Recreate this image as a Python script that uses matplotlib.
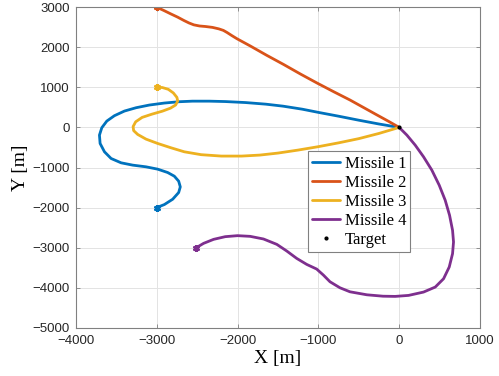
import matplotlib.pyplot as plt
import numpy as np

# Trajectories (metres), start -> target
m1_x = [-3000, -2905, -2802, -2728, -2708, -2728, -2782, -2864, -2988, -3132, -3296, -3440, -3564,
        -3646, -3700, -3708, -3679, -3617, -3523, -3399, -3255, -3091, -2905, -2720, -2556, -2350,
        -2150, -1900, -1650, -1436, -1200, -1000, -750, -500, -250, 0]
m1_y = [-2000, -1924, -1791, -1624, -1483, -1341, -1216, -1125, -1041, -983, -941, -883, -775,
        -608, -400, -192, -8, 158, 292, 408, 491, 558, 608, 641, 655, 655,
        645, 620, 580, 530, 455, 375, 280, 180, 85, 0]

m2_x = [-3000, -2910, -2827, -2740, -2663, -2600, -2540, -2470, -2396, -2310, -2231, -2175, -2129,
        -2070, -2005, -1841, -1640, -1430, -1220, -1019, -810, -608, -440, -279, -130, 0]
m2_y = [3000, 2915, 2833, 2750, 2667, 2605, 2558, 2530, 2517, 2495, 2458, 2420, 2367,
        2290, 2210, 2030, 1800, 1570, 1330, 1110, 890, 683, 495, 315, 150, 0]

m3_x = [-3000, -2930, -2856, -2794, -2750, -2740, -2765, -2830, -2930, -3060, -3180, -3260, -3292,
        -3285, -3235, -3132, -2988, -2823, -2659, -2450, -2200, -1950, -1724, -1500, -1250, -1000,
        -750, -500, -250, -100, 0]
m3_y = [1000, 995, 950, 860, 750, 660, 560, 480, 405, 330, 250, 140, 20,
        -80, -175, -292, -400, -508, -608, -680, -715, -715, -690, -640, -565, -480,
        -385, -280, -150, -60, 0]

m4_x = [-2510, -2420, -2296, -2152, -2000, -1844, -1679, -1514, -1391, -1268, -1144, -1021, -938,
        -856, -733, -609, -400, -200, -50, 116, 301, 446, 549, 619, 660, 672, 660, 623, 569, 495,
        404, 301, 198, 95, 0]
m4_y = [-3000, -2892, -2792, -2725, -2700, -2717, -2783, -2917, -3083, -3267, -3417, -3533, -3683,
        -3850, -4000, -4100, -4175, -4210, -4215, -4190, -4107, -3982, -3774, -3482, -3149, -2857,
        -2566, -2191, -1816, -1441, -1066, -733, -442, -192, 0]

target = (0, 0)

labels = ['Missile 1', 'Missile 2', 'Missile 3', 'Missile 4']
colors = ['#0072BD', '#D95319', '#EDB120', '#7E2F8E']

xticks = np.arange(-4000, 1001, 1000)
yticks = np.arange(-5000, 3001, 1000)

fig = plt.figure(figsize=(4.99, 3.76), dpi=100)
ax = fig.add_axes([0.152, 0.128, 0.81, 0.853])

paths = [(m1_x, m1_y), (m2_x, m2_y), (m3_x, m3_y), (m4_x, m4_y)]
for (px, py), lab, c in zip(paths, labels, colors):
    ax.plot(px, py, color=c, lw=2.0, label=lab, solid_joinstyle='round', solid_capstyle='round')
    # start marker
    ax.plot(px[0], py[0], marker=(6, 2, 0), ms=5, mew=1.6, color=c, ls='none')
ax.plot(*target, 'k.', ms=4, label='Target')

ax.set_xlim(-4000, 1000)
ax.set_ylim(-5000, 3000)
ax.set_xticks(xticks)
ax.set_yticks(yticks)
ax.grid(True, color='#e3e3e3', lw=0.7)
ax.set_axisbelow(True)

ax.tick_params(direction='in', length=3, width=0.6, top=True, right=True,
               labelsize=9.5, colors='#808080', labelcolor='#262626')
ax.tick_params(axis='x', pad=5)
ax.tick_params(axis='y', pad=4.5)
for lbl in ax.get_xticklabels() + ax.get_yticklabels():
    lbl.set_family('Liberation Sans')
for s in ax.spines.values():
    s.set_color('#808080')
    s.set_linewidth(0.8)

ax.set_xlabel('X [m]', family='Liberation Serif', fontsize=14, labelpad=2)
ax.set_ylabel('Y [m]', family='Liberation Serif', fontsize=14, labelpad=2)

leg = ax.legend(loc='upper left', bbox_to_anchor=(0.574, 0.55), prop={'family': 'Liberation Serif', 'size': 12},
                fancybox=False, framealpha=1, edgecolor='#808080', handlelength=1.7,
                handletextpad=0.25, labelspacing=0.18, borderpad=0.25, borderaxespad=0)
leg.get_frame().set_linewidth(0.8)

fig.savefig('out.png', dpi=100)
